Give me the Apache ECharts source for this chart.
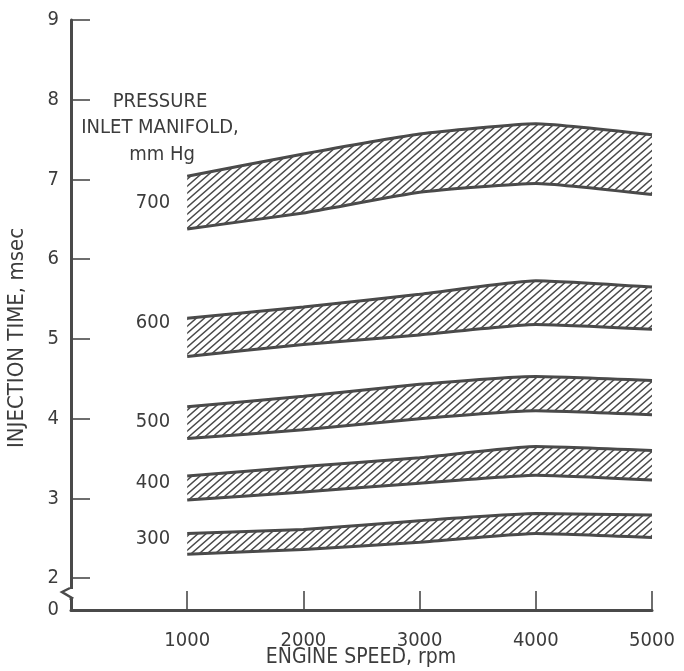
<!DOCTYPE html>
<html>
<head>
<meta charset="utf-8">
<script src="https://cdn.jsdelivr.net/npm/echarts@6/dist/echarts.min.js"></script>
<style>html,body{margin:0;padding:0;background:#fff;}#c{width:684px;height:671px;}</style>
</head>
<body>
<div id="c"></div>
<script>
// ---- data ----
const speeds = [1000, 2000, 3000, 4000, 5000];
const pressures = ['700', '600', '500', '400', '300'];
const low700 = [6.38, 6.58, 6.84, 6.95, 6.81];
const high700 = [7.04, 7.32, 7.57, 7.70, 7.56];
const low600 = [4.78, 4.93, 5.05, 5.18, 5.12];
const high600 = [5.26, 5.40, 5.56, 5.73, 5.65];
const low500 = [3.75, 3.86, 4.00, 4.10, 4.05];
const high500 = [4.15, 4.28, 4.43, 4.53, 4.48];
const low400 = [2.98, 3.08, 3.19, 3.29, 3.23];
const high400 = [3.28, 3.40, 3.51, 3.65, 3.60];
const low300 = [2.30, 2.36, 2.45, 2.56, 2.51];
const high300 = [2.56, 2.61, 2.72, 2.81, 2.79];
const bandLabelY = [6.71, 5.20, 3.96, 3.19, 2.49];
const yTicks = [2, 3, 4, 5, 6, 7, 8, 9];
const yLabelValues = [1.6, 2, 3, 4, 5, 6, 7, 8, 9];
const yBreakValue = 1.6; // drawn as "0"

const xCats = ['0'].concat(speeds.map(String));

const FONT = "'DejaVu Sans Condensed', 'DejaVu Sans', sans-serif";
const TXT = '#3c3c3c';
const LINE = '#4a4a4a';

// hatch pattern
const pw = 8, ph = 7;
const pc = document.createElement('canvas');
pc.width = pw; pc.height = ph;
const g = pc.getContext('2d');
g.strokeStyle = '#4a4a4a';
g.lineWidth = 1.4;
g.beginPath();
g.moveTo(-pw, 2 * ph); g.lineTo(2 * pw, -ph);
g.moveTo(-2 * pw, 2 * ph); g.lineTo(pw, -ph);
g.moveTo(0, 2 * ph); g.lineTo(3 * pw, -ph);
g.stroke();

const lows = [low700, low600, low500, low400, low300];
const highs = [high700, high600, high500, high400, high300];

const series = [];
lows.forEach((lo, i) => {
  const hi = highs[i];
  series.push({
    type: 'line', stack: 'band' + i, symbol: 'none', smooth: 0.15,
    data: ['-'].concat(lo),
    lineStyle: { color: LINE, width: 3 }, z: 3
  });
  series.push({
    type: 'line', stack: 'band' + i, symbol: 'none', smooth: 0.15,
    data: ['-'].concat(hi.map((v, k) => +(v - lo[k]).toFixed(3))),
    lineStyle: { color: LINE, width: 3 },
    areaStyle: { color: { image: pc, repeat: 'repeat' }, opacity: 1 }, z: 3
  });
});

const chart = echarts.init(document.getElementById('c'), null, { renderer: 'canvas' });
chart.setOption({
  animation: false,
  backgroundColor: '#fff',
  grid: { left: 71, right: 32, top: 20, bottom: 61, containLabel: false },
  xAxis: {
    type: 'category', data: xCats, boundaryGap: false,
    axisLine: { show: true, lineStyle: { color: LINE, width: 3 } },
    axisTick: { show: true, inside: true, length: 19, interval: (idx) => idx > 0, lineStyle: { color: LINE, width: 1.6 } },
    axisLabel: { interval: (idx) => idx > 0, margin: 21, color: TXT, fontFamily: FONT, fontSize: 20 },
    splitLine: { show: false }
  },
  yAxis: {
    type: 'value', min: yBreakValue, max: 9,
    axisLine: { show: true, lineStyle: { color: LINE, width: 3 } },
    axisTick: { show: true, inside: true, length: 19, customValues: yTicks, lineStyle: { color: LINE, width: 1.6 } },
    axisLabel: { customValues: yLabelValues, margin: 12, color: TXT, fontFamily: FONT, fontSize: 20,
      formatter: v => (Math.abs(v - yBreakValue) < 1e-6 ? '0' : String(Math.round(v))) },
    splitLine: { show: false }
  },
  series: series
});

function draw() {
  const els = [];
  const o = chart.convertToPixel({ gridIndex: 0 }, [0, yBreakValue]);
  const ax = o[0] - 1, oy = o[1];
  // axis break
  els.push({ type: 'rect', shape: { x: ax - 3, y: oy - 21, width: 6, height: 10 }, style: { fill: '#fff' }, z: 10 });
  els.push({ type: 'polyline', shape: { points: [[ax, oy - 22], [ax - 8, oy - 18], [ax + 2, oy - 12], [ax, oy - 10]] },
    style: { stroke: LINE, lineWidth: 2.5, fill: null }, z: 11 });
  // band labels
  pressures.forEach((p, i) => {
    const pt = chart.convertToPixel({ gridIndex: 0 }, [1, bandLabelY[i]]);
    els.push({ type: 'text', x: pt[0] - 17, y: pt[1],
      style: { text: p, fill: TXT, font: '20px ' + FONT, align: 'right', verticalAlign: 'middle' }, z: 12 });
  });
  // annotation
  const ann = [['PRESSURE', 160, 102], ['INLET MANIFOLD,', 160, 128], ['mm Hg', 162, 155]];
  ann.forEach(a => els.push({ type: 'text', x: a[1], y: a[2],
    style: { text: a[0], fill: TXT, font: '20px ' + FONT, align: 'center', verticalAlign: 'middle' }, z: 12 }));
  // axis names
  els.push({ type: 'text', x: 361, y: 658,
    style: { text: 'ENGINE SPEED, rpm', fill: TXT, font: '21px ' + FONT, align: 'center', verticalAlign: 'middle' }, z: 12 });
  els.push({ type: 'text', x: 17, y: 338, rotation: Math.PI / 2,
    style: { text: 'INJECTION TIME, msec', fill: TXT, font: '22px ' + FONT, align: 'center', verticalAlign: 'middle' }, z: 12 });
  chart.setOption({ graphic: { elements: els } });
}
draw();
</script>
</body>
</html>
